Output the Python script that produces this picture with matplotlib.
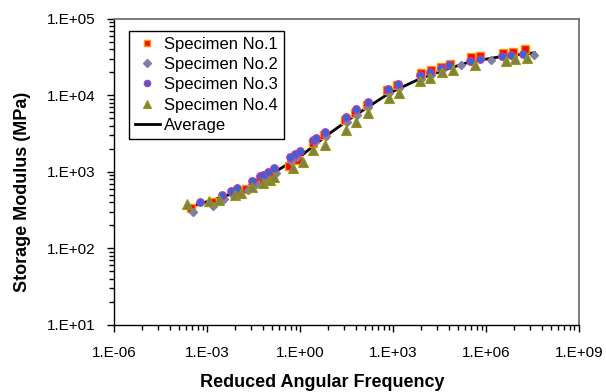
import numpy as np
import matplotlib
matplotlib.use("Agg")
import matplotlib.pyplot as plt
from matplotlib.ticker import FixedLocator, FuncFormatter, NullFormatter

plt.rcParams['font.family'] = ['Liberation Sans', 'DejaVu Sans']

# --- data (reduced frequency, storage modulus MPa) ---
freq_s1 = [3.0e-4, 1.45e-3, 1.08e-2, 1.8e-2, 3.8e-2, 6.5e-2, 0.125, 0.45, 0.86, 2.6, 5.9,
           28, 59, 145, 640, 1350, 8000, 17700, 35300, 69000, 3.46e5, 6.75e5, 3.6e6, 7.3e6, 1.8e7]
mod_s1 = [335, 405, 531, 600, 740, 786, 942, 1198, 1435, 2394, 3050,
          4786, 5900, 7520, 11800, 13710, 19680, 21540, 23370, 25590, 31570, 32840, 36240, 37390, 40180]

freq_s2 = [3.6e-4, 1.6e-3, 3.5e-3, 6.9e-3, 2.1e-2, 3.8e-2, 8.0e-2, 0.168, 0.51, 0.80, 3.0, 6.9,
           33, 69, 156, 740, 1560, 8000, 16800, 38100, 1.56e5, 3.28e5, 1.45e6, 3.8e6, 7.4e6, 3.5e7]
mod_s2 = [303, 362, 444, 500, 582, 697, 835, 971, 1393, 1571, 2467, 2958,
          4505, 5560, 7080, 10790, 12530, 16440, 18540, 21540, 25060, 28260, 29120, 31860, 31860, 33830]

freq_s3 = [5.9e-4, 3.0e-3, 5.8e-3, 9.5e-3, 2.8e-2, 5.1e-2, 6.5e-2, 9.5e-2, 0.148, 0.475, 0.69, 1.0,
           2.7, 3.3, 6.4, 32, 67, 160, 705, 1480, 7700, 15600, 37200, 64000, 3.05e5, 6.75e5,
           3.46e6, 6.7e6, 1.6e7]
mod_s3 = [407, 500, 570, 623, 763, 895, 914, 1009, 1138, 1585, 1703, 1883,
          2618, 2758, 3365, 5284, 6607, 8300, 12060, 14000, 18540, 20280, 23080, 24670, 28500, 29720,
          32840, 33830, 34860]

freq_s4 = [2.3e-4, 1.19e-3, 2.5e-3, 8.0e-3, 1.3e-2, 2.8e-2, 6.5e-2, 0.108, 0.148, 0.61, 1.28,
           2.6, 6.4, 32, 64, 160, 760, 1560, 7800, 15600, 38900, 88000, 4.42e5, 4.4e6, 8.6e6, 2.2e7]
mod_s4 = [378, 418, 431, 500, 536, 643, 711, 786, 868, 1117, 1364,
          1941, 2254, 3540, 4465, 5853, 9190, 10700, 15240, 16680, 20280, 21230, 25060, 28260, 29720, 30620]

freq_avg = [2.3e-4, 5.9e-4, 2.6e-3, 1.16e-2, 5.1e-2, 0.156, 1.0, 6.4, 41, 181, 800, 7430,
            47500, 3.05e5, 2.83e6, 3.8e7]
mod_avg = [338, 382, 457, 565, 786, 1000, 1571, 2871, 4930, 7300, 10790, 16440,
           21540, 27400, 31860, 35940]

x_major_exp = [-6, -3, 0, 3, 6, 9]
y_major_exp = [1, 2, 3, 4, 5]


def sci_label(v, pos):
    e = int(round(np.log10(v)))
    return f"1.E{e:+03d}"


fig = plt.figure(figsize=(6.06, 3.92), dpi=100)
ax = fig.add_axes([0.188, 0.171, 0.767, 0.781])

ax.plot(freq_avg, mod_avg, color='black', lw=2, zorder=2, label='_avg')
ax.plot(freq_s1, mod_s1, ls='none', marker='s', ms=5.5, mfc='#FF0000', mec='#FF9900', mew=1,
        label='Specimen No.1', zorder=3)
ax.plot(freq_s2, mod_s2, ls='none', marker='D', ms=4.5, mfc='#7F7F9F', mec='#7F7F9F',
        label='Specimen No.2', zorder=3)
ax.plot(freq_s3, mod_s3, ls='none', marker='o', ms=5.5, mfc='#3366DD', mec='#CC3399', mew=0.8,
        label='Specimen No.3', zorder=3)
ax.plot(freq_s4, mod_s4, ls='none', marker='^', ms=6.5, mfc='#7F7F50', mec='#999900', mew=0.8,
        label='Specimen No.4', zorder=3)
ax.plot([], [], color='black', lw=2, label='Average')

ax.set_xscale('log')
ax.set_yscale('log')
ax.set_xlim(1e-6, 1e9)
ax.set_ylim(1e1, 1e5)

# Excel style ticks: majors every 3 decades on x, minors at k^3 steps inside each span
x_major = [10.0 ** e for e in x_major_exp]
x_minor = [10.0 ** e * k ** 3 for e in x_major_exp[:-1] for k in range(2, 10)]
y_major = [10.0 ** e for e in y_major_exp]
y_minor = [10.0 ** e * k for e in y_major_exp[:-1] for k in range(2, 10)]
ax.xaxis.set_major_locator(FixedLocator(x_major))
ax.xaxis.set_minor_locator(FixedLocator(x_minor))
ax.yaxis.set_major_locator(FixedLocator(y_major))
ax.yaxis.set_minor_locator(FixedLocator(y_minor))
ax.xaxis.set_major_formatter(FuncFormatter(sci_label))
ax.yaxis.set_major_formatter(FuncFormatter(sci_label))
ax.xaxis.set_minor_formatter(NullFormatter())
ax.yaxis.set_minor_formatter(NullFormatter())

ax.tick_params(axis='both', which='major', direction='out', length=5, width=1, labelsize=11,
               colors='black')
ax.tick_params(axis='both', which='minor', direction='out', length=3.5, width=1)
ax.tick_params(axis='x', which='major', pad=10)
ax.tick_params(axis='y', which='major', pad=8)

for s in ['left', 'bottom']:
    ax.spines[s].set_color('black')
    ax.spines[s].set_linewidth(1)
for s in ['top', 'right']:
    ax.spines[s].set_color('#666666')
    ax.spines[s].set_linewidth(1.2)

ax.set_xlabel('Reduced Angular Frequency', fontsize=13, fontweight='bold')
ax.set_ylabel('Storage Modulus (MPa)', fontsize=13, fontweight='bold')
ax.xaxis.set_label_coords(0.448, -0.16)
ax.yaxis.set_label_coords(-0.178, 0.435)

leg = ax.legend(loc='upper left', bbox_to_anchor=(0.032, 0.961), borderaxespad=0,
                fontsize=12, frameon=True, fancybox=False, framealpha=1,
                edgecolor='black', handlelength=1.5, handletextpad=0.25,
                labelspacing=0.32, borderpad=0.35, markerscale=0.85)
leg.get_frame().set_linewidth(1)

fig.savefig('out.png', dpi=100)
